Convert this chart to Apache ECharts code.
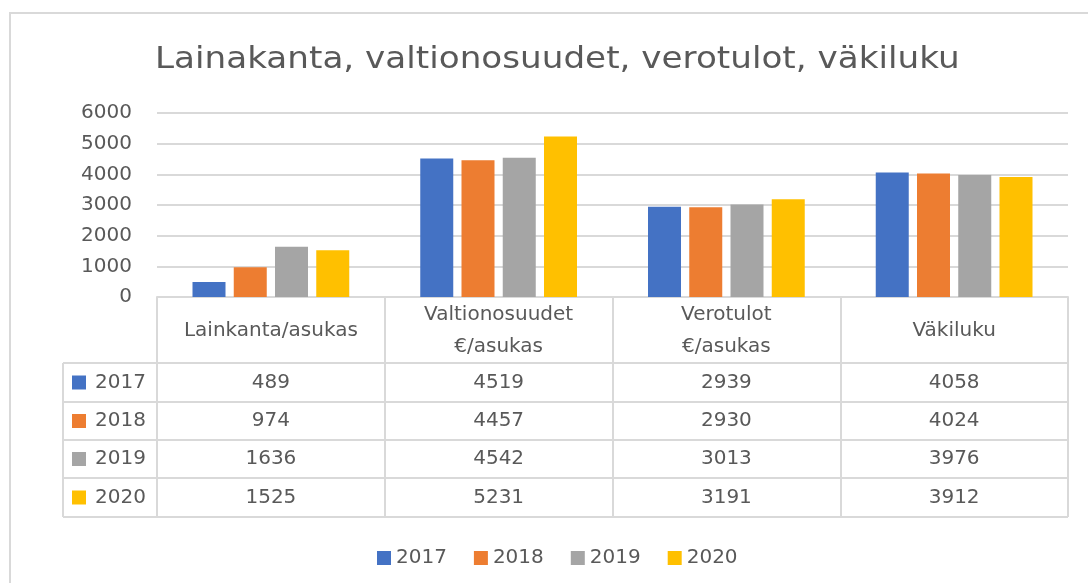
<!DOCTYPE html>
<html>
<head>
<meta charset="utf-8">
<script src="https://cdn.jsdelivr.net/npm/echarts@6/dist/echarts.min.js"></script>
<style>
  html, body { margin: 0; padding: 0; background: #fff; }
  #chart { width: 1088px; height: 583px; }
</style>
</head>
<body>
<div id="chart"></div>
<script>
const categories = ["Lainkanta/asukas", "Valtionosuudet\n€/asukas", "Verotulot\n€/asukas", "Väkiluku"];
const years = ["2017", "2018", "2019", "2020"];
const v2017 = [489, 4519, 2939, 4058];
const v2018 = [974, 4457, 2930, 4024];
const v2019 = [1636, 4542, 3013, 3976];
const v2020 = [1525, 5231, 3191, 3912];
const colors = ["#4472C4", "#ED7D31", "#A5A5A5", "#FFC000"];
const titleText = "Lainakanta, valtionosuudet, verotulot, väkiluku";

const values = [v2017, v2018, v2019, v2020];
const font = "DejaVu Sans";
const textColor = "#595959";
const lineColor = "#D9D9D9";

// table geometry (pixels)
const gridLeft = 157, gridRight = 1068, axisY = 297;
const tableLeft = 63;
const rowLines = [363, 402, 440, 478, 517];
const colW = (gridRight - gridLeft) / categories.length;

const chart = echarts.init(document.getElementById("chart"));

const graphic = [];
// outer chart border
graphic.push({
  type: "rect", shape: { x: 10, y: 13, width: 1100, height: 600 },
  style: { fill: null, stroke: lineColor, lineWidth: 2 }, silent: true
});
// title (stretched a bit to match the original's wide lettering)
graphic.push({
  type: "text", x: 155, y: 60, scaleX: 1.14,
  style: { text: titleText, font: "30px '" + font + "'", fill: textColor, verticalAlign: "middle", align: "left" },
  silent: true
});
// horizontal table lines
rowLines.forEach(y => {
  graphic.push({
    type: "line", shape: { x1: tableLeft, y1: y, x2: gridRight, y2: y },
    style: { stroke: lineColor, lineWidth: 2 }, silent: true
  });
});
// left border of legend column
graphic.push({
  type: "line", shape: { x1: tableLeft, y1: rowLines[0], x2: tableLeft, y2: rowLines[4] },
  style: { stroke: lineColor, lineWidth: 2 }, silent: true
});
// rows: legend key + values
years.forEach((yr, r) => {
  const cy = (rowLines[r] + rowLines[r + 1]) / 2;
  graphic.push({
    type: "rect", shape: { x: 72, y: cy - 7, width: 14, height: 14 },
    style: { fill: colors[r] }, silent: true
  });
  graphic.push({
    type: "text", x: 95, y: cy,
    style: { text: yr, font: "20px '" + font + "'", fill: textColor, verticalAlign: "middle", align: "left" },
    silent: true
  });
  values[r].forEach((v, c) => {
    graphic.push({
      type: "text", x: gridLeft + colW * (c + 0.5), y: cy,
      style: { text: String(v), font: "20px '" + font + "'", fill: textColor, verticalAlign: "middle", align: "center" },
      silent: true
    });
  });
});

chart.setOption({
  animation: false,
  textStyle: { fontFamily: font },
  legend: {
    data: years,
    left: 372, top: 543,
    icon: "rect", itemWidth: 14, itemHeight: 14, itemGap: 27,
    textStyle: { fontSize: 20, color: textColor, fontFamily: font }
  },
  grid: {
    left: gridLeft, right: 1088 - gridRight, top: 113, bottom: 583 - axisY,
    containLabel: false, outerBoundsMode: "none"
  },
  xAxis: {
    type: "category",
    data: categories,
    axisLine: { lineStyle: { color: lineColor, width: 2 } },
    axisTick: { show: true, length: rowLines[4] - axisY, lineStyle: { color: lineColor, width: 2 } },
    axisLabel: {
      color: textColor, fontSize: 20, lineHeight: 32, margin: 34,
      verticalAlign: "middle", fontFamily: font, interval: 0
    }
  },
  yAxis: {
    type: "value", min: 0, max: 6000, interval: 1000,
    axisLine: { show: false },
    axisTick: { show: false },
    axisLabel: { color: textColor, fontSize: 20, margin: 25, fontFamily: font, formatter: v => String(v) },
    splitLine: { lineStyle: { color: lineColor, width: 2 } }
  },
  series: years.map((yr, i) => ({
    name: yr,
    type: "bar",
    data: values[i],
    barWidth: 33,
    barGap: "25%",
    itemStyle: { color: colors[i] }
  })),
  graphic: graphic
});
</script>
</body>
</html>
